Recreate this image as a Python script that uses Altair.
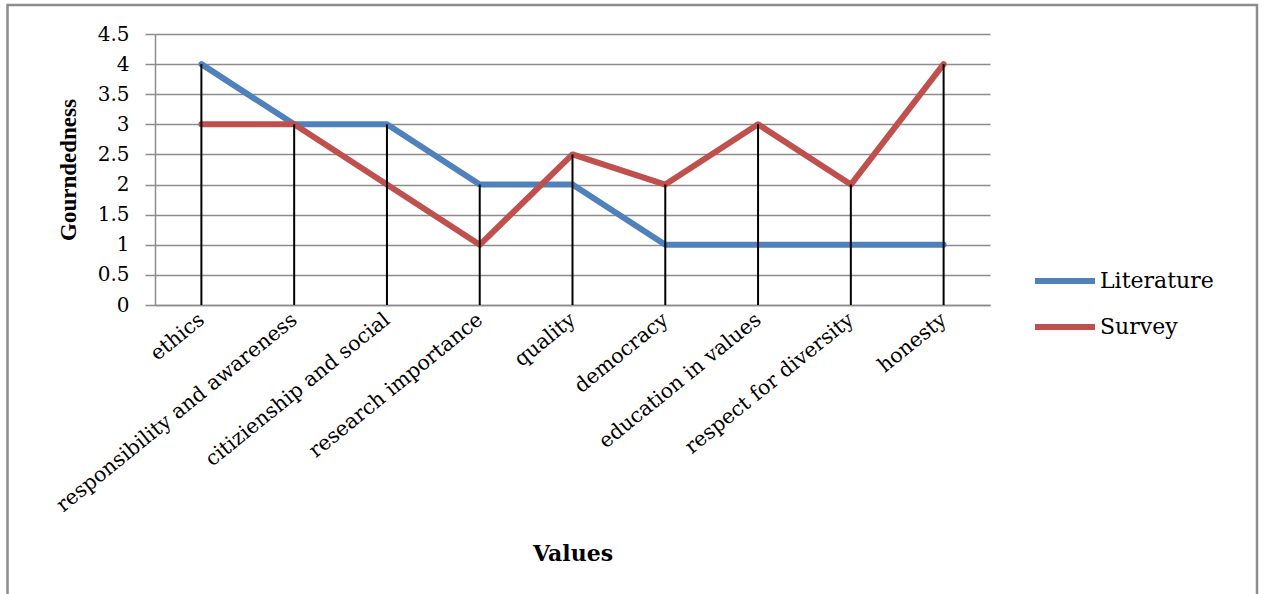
import altair as alt
import pandas as pd

# Chart data
categories = [
    "ethics",
    "responsibility and awareness",
    "citizienship and social",
    "research importance",
    "quality",
    "democracy",
    "education in values",
    "respect for diversity",
    "honesty",
]
literature = [4, 3, 3, 2, 2, 1, 1, 1, 1]
survey = [3, 3, 2, 1, 2.5, 2, 3, 2, 4]
series_names = ["Literature", "Survey"]
series_colors = ["#4F81BD", "#C0504D"]
y_ticks = [0, 0.5, 1, 1.5, 2, 2.5, 3, 3.5, 4, 4.5]

rows = []
for name, vals in zip(series_names, [literature, survey]):
    for cat, val in zip(categories, vals):
        rows.append({"Values": cat, "Series": name, "Gourndedness": val})
df = pd.DataFrame(rows)

W, H = 835, 271
FONT = "DejaVu Serif"
GRID = "#8c8c8c"

x_axis = alt.Axis(
    labelAngle=-39,
    labelAlign="right",
    labelBaseline="middle",
    labelPadding=12,
    labelLimit=400,
    labelFontSize=20.5,
    ticks=False,
    grid=False,
    domainColor=GRID,
    domainWidth=1.5,
    titleX=W / 2,
    titleY=248,
    titleBaseline="middle",
    titleFont=FONT,
    titleFontSize=22,
    titleFontWeight="bold",
)

y_axis = alt.Axis(
    values=y_ticks,
    format="~g",
    labelOverlap=False,
    labelFontSize=20,
    grid=True,
    gridColor=GRID,
    gridWidth=1.5,
    domainColor=GRID,
    domainWidth=1.5,
    tickColor=GRID,
    tickWidth=1.5,
    tickSize=10,
    labelPadding=16,
    titleX=-87,
    titleY=H / 2,
    titleAngle=-90,
    titleBaseline="middle",
    titleAlign="center",
    titleFont="Liberation Serif",
    titleFontSize=23,
    titleFontWeight="bold",
)

y_scale = alt.Scale(domain=[0, 4.5], nice=False, zero=True)
x_scale = alt.Scale(type="point", padding=0.5)

lines = alt.Chart(df).mark_line(
    strokeWidth=6, strokeCap="round", strokeJoin="round"
).encode(
    x=alt.X("Values:N", sort=categories, title="Values", scale=x_scale, axis=x_axis),
    y=alt.Y("Gourndedness:Q", title="Gourndedness", scale=y_scale, axis=y_axis),
    color=alt.Color(
        "Series:N",
        scale=alt.Scale(domain=series_names, range=series_colors),
        legend=alt.Legend(
            title=None,
            orient="none",
            legendX=877,
            legendY=237,
            symbolType="stroke",
            symbolSize=3600,
            symbolStrokeWidth=6,
            labelFont=FONT,
            labelFontSize=22,
            labelColor="black",
            labelOffset=2,
            clipHeight=20,
            rowPadding=24,
        ),
    ),
)

# Drop lines from the higher of the two series down to zero
drops = alt.Chart(df).transform_aggregate(
    top="max(Gourndedness)", groupby=["Values"]
).mark_rule(color="black", strokeWidth=2).encode(
    x=alt.X("Values:N", sort=categories, title="Values", scale=x_scale, axis=x_axis),
    y=alt.Y("top:Q", title="Gourndedness", scale=y_scale, axis=y_axis),
    y2=alt.datum(0),
)

# Outer frame around the whole figure
frame = alt.Chart(pd.DataFrame({"k": [0]})).mark_rect(
    fillOpacity=0, stroke=GRID, strokeWidth=2.5
).encode(
    x=alt.value(-147.5),
    x2=alt.value(1102),
    y=alt.value(-29),
    y2=alt.value(700),
)

chart = alt.layer(frame, lines, drops).properties(
    width=W,
    height=H,
    autosize=alt.AutoSizeParams(type="none"),
    padding={"left": 155, "top": 34, "right": 274, "bottom": 289},
    background="white",
).configure_view(
    stroke=None
).configure_axis(
    labelFont=FONT,
    labelColor="black",
    titleColor="black",
)

chart.save("out.html", embed_options={"renderer": "svg", "actions": False})
